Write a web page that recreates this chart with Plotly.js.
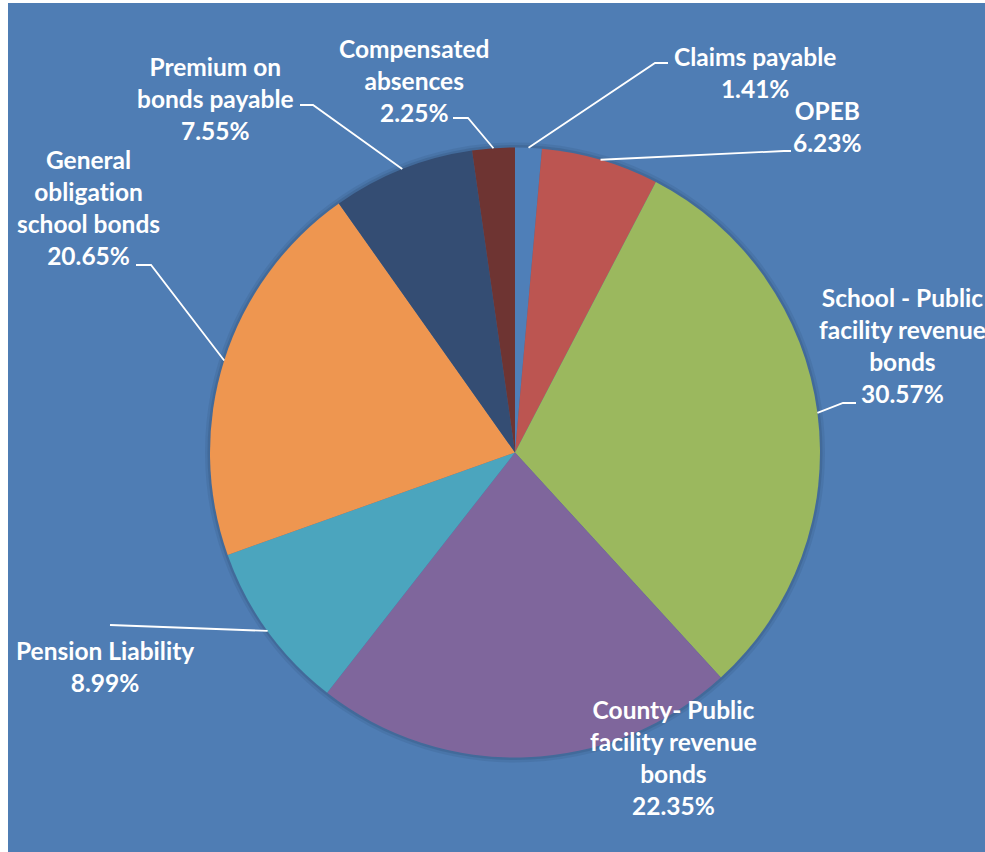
<!DOCTYPE html>
<html>
<head>
<meta charset="utf-8">
<script src="https://cdn.plot.ly/plotly-3.0.1.min.js"></script>
<style>
  html, body { margin: 0; padding: 0; background: #ffffff; }
  #chart { width: 985px; height: 852px; }
  svg text { font-variant-ligatures: none; font-feature-settings: "liga" 0, "clig" 0; }
</style>
</head>
<body>
<div id="chart"></div>
<script>
// ---- data ----
const categories = [
  "Claims payable",
  "OPEB",
  "School - Public facility revenue bonds",
  "County- Public facility revenue bonds",
  "Pension Liability",
  "General obligation school bonds",
  "Premium on bonds payable",
  "Compensated absences"
];
const shares = [1.41, 6.23, 30.57, 22.35, 8.99, 20.65, 7.55, 2.25];
const wrappedLabels = [
  "Claims payable",
  "OPEB",
  "School - Public<br>facility revenue<br>bonds",
  "County- Public<br>facility revenue<br>bonds",
  "Pension Liability",
  "General<br>obligation<br>school bonds",
  "Premium on<br>bonds payable",
  "Compensated<br>absences"
];

// ---- styles / layout constants ----
const sliceColors = ['#4F7FB8', '#BC5551', '#9BB85E', '#7F669C', '#4BA5BE', '#EE9650', '#344D73', '#6E3432'];
const W = 985, H = 852;
const CX = 515, CY = 452.5, R = 305;           // pie centre / radius in pixels
// label block centres (px) and leader-line elbow / end points (px); null = no leader line
const labelPos = [
  {x: 755, y: 72,  elbow: [655, 63],  end: [668, 63]},
  {x: 827, y: 126, elbow: [784, 151], end: [791, 151]},
  {x: 902, y: 345, elbow: [843, 403], end: [856, 403]},
  {x: 673, y: 757, elbow: null, end: null},
  {x: 105, y: 666, elbow: [110, 625], end: [110, 625]},
  {x: 88,  y: 208, elbow: [151, 265], end: [136, 265]},
  {x: 215, y: 98,  elbow: [313, 105], end: [300, 105]},
  {x: 414, y: 80,  elbow: [468, 118], end: [453, 118]}
];

const px = v => v / W;
const py = v => 1 - v / H;

const pie = {
  type: 'pie',
  values: shares,
  labels: categories,
  sort: false,
  direction: 'clockwise',
  rotation: 0,
  textinfo: 'none',
  hoverinfo: 'label+percent',
  marker: {colors: sliceColors, line: {width: 0}},
  domain: {x: [px(CX - R), px(CX + R)], y: [py(CY + R), py(CY - R)]},
  showlegend: false
};

const total = shares.reduce((a, b) => a + b, 0);
const annotations = [];
const shapes = [
  // white strips on the picture edges
  {type: 'rect', xref: 'paper', yref: 'paper', x0: 0, x1: px(8), y0: 0, y1: 1,
   fillcolor: '#ffffff', line: {width: 0}, layer: 'below'},
  {type: 'rect', xref: 'paper', yref: 'paper', x0: 0, x1: 1, y0: py(3), y1: 1,
   fillcolor: '#ffffff', line: {width: 0}, layer: 'below'},
  // soft shadow around pie
  {type: 'circle', xref: 'paper', yref: 'paper',
   x0: px(CX - R - 5), x1: px(CX + R + 5), y0: py(CY + R + 5), y1: py(CY - R - 5),
   fillcolor: 'rgba(30,45,75,0.10)', line: {width: 0}, layer: 'below'},
  {type: 'circle', xref: 'paper', yref: 'paper',
   x0: px(CX - R - 2.5), x1: px(CX + R + 2.5), y0: py(CY + R + 2.5), y1: py(CY - R - 2.5),
   fillcolor: 'rgba(30,45,75,0.15)', line: {width: 0}, layer: 'below'}
];

let cum = 0;
shares.forEach((v, i) => {
  const mid = (cum + v / 2) / total * 2 * Math.PI;
  cum += v;
  const ax = CX + R * Math.sin(mid);
  const ay = CY - R * Math.cos(mid);
  const lp = labelPos[i];
  annotations.push({
    xref: 'paper', yref: 'paper',
    x: px(lp.x), y: py(lp.y),
    xanchor: 'center', yanchor: 'middle', align: 'center',
    showarrow: false,
    text: wrappedLabels[i] + '<br>' + v.toFixed(2) + '%',
    font: {family: 'Lato, "Open Sans", sans-serif', size: 24.5, color: '#ffffff', weight: 'bold'}
  });
  if (lp.elbow) {
    const path = `M ${px(ax)} ${py(ay)} L ${px(lp.elbow[0])} ${py(lp.elbow[1])} L ${px(lp.end[0])} ${py(lp.end[1])}`;
    shapes.push({type: 'path', xref: 'paper', yref: 'paper', path: path,
      line: {color: '#ffffff', width: 1.8}, layer: 'above'});
  }
});

const layout = {
  width: W, height: H,
  margin: {l: 0, r: 0, t: 0, b: 0},
  paper_bgcolor: '#4F7DB4',
  plot_bgcolor: '#4F7DB4',
  showlegend: false,
  annotations: annotations,
  shapes: shapes
};

Plotly.newPlot('chart', [pie], layout, {displayModeBar: false, staticPlot: true});
</script>
</body>
</html>
